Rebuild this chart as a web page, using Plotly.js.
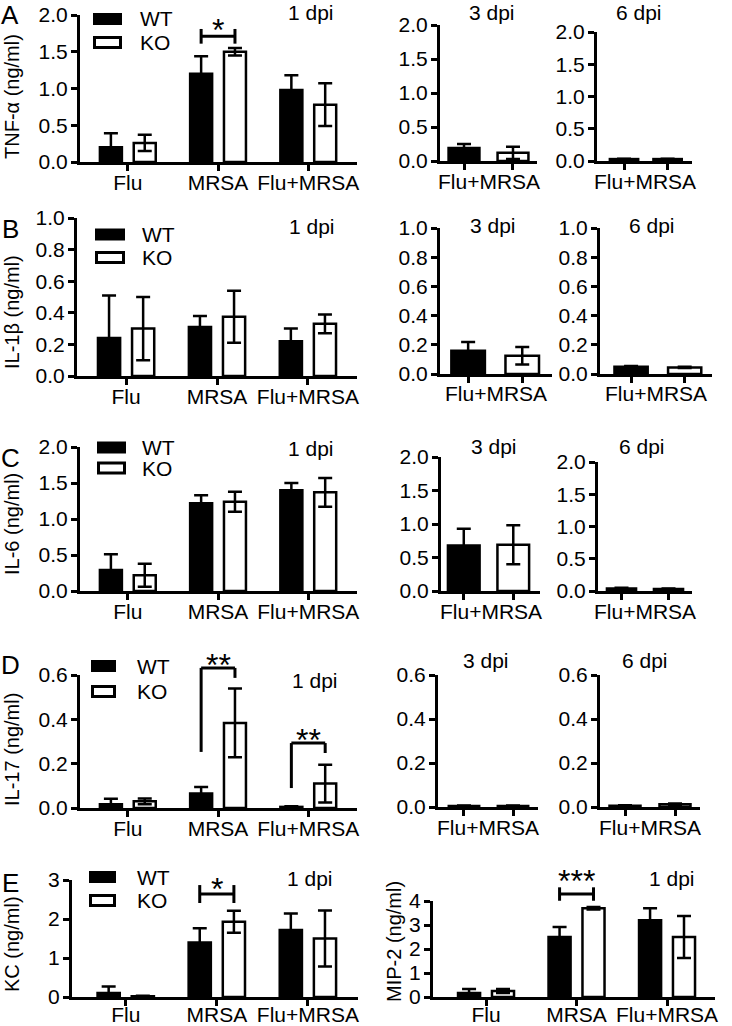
<!DOCTYPE html>
<html><head><meta charset="utf-8">
<script src="https://cdn.plot.ly/plotly-3.0.1.min.js"></script>
<style>body{margin:0;background:#fff}</style>
</head><body><div id="chart" style="width:732px;height:1026px"></div>
<script>
// ---------- DATA ----------
const groups = ["Flu", "MRSA", "Flu+MRSA"];
const genotypes = ["WT", "KO"];
const lateGroup = "Flu+MRSA";
const dayLabels = ["1 dpi", "3 dpi", "6 dpi"];

// A: TNF-α (ng/ml)
const tnf1_wt = [0.20, 1.20, 0.98];
const tnf1_wt_err = [0.19, 0.24, 0.20];
const tnf1_ko = [0.26, 1.50, 0.78];
const tnf1_ko_err = [0.11, 0.05, 0.29];
const tnf3 = [0.19, 0.12];
const tnf3_err = [0.06, 0.09];
const tnf6 = [0.03, 0.03];
const tnf6_err = [0.005, 0.005];

// B: IL-1β (ng/ml)
const il1b1_wt = [0.24, 0.31, 0.22];
const il1b1_wt_err = [0.27, 0.07, 0.08];
const il1b1_ko = [0.30, 0.375, 0.33];
const il1b1_ko_err = [0.20, 0.165, 0.06];
const il1b3 = [0.16, 0.125];
const il1b3_err = [0.06, 0.06];
const il1b6 = [0.05, 0.045];
const il1b6_err = [0.004, 0.004];

// C: IL-6 (ng/ml)
const il6_1_wt = [0.29, 1.22, 1.40];
const il6_1_wt_err = [0.22, 0.11, 0.10];
const il6_1_ko = [0.22, 1.24, 1.37];
const il6_1_ko_err = [0.16, 0.14, 0.20];
const il6_3 = [0.68, 0.69];
const il6_3_err = [0.25, 0.29];
const il6_6 = [0.04, 0.03];
const il6_6_err = [0.01, 0.01];

// D: IL-17 (ng/ml)
const il17_1_wt = [0.017, 0.065, 0.005];
const il17_1_wt_err = [0.025, 0.03, 0.003];
const il17_1_ko = [0.03, 0.384, 0.11];
const il17_1_ko_err = [0.013, 0.155, 0.085];
const il17_3 = [0.005, 0.005];
const il17_3_err = [0.002, 0.002];
const il17_6 = [0.006, 0.012];
const il17_6_err = [0.002, 0.004];

// E: KC and MIP-2 (ng/ml)
const kc_wt = [0.10, 1.40, 1.72];
const kc_wt_err = [0.17, 0.36, 0.42];
const kc_ko = [0.02, 1.93, 1.50];
const kc_ko_err = [0.01, 0.28, 0.72];
const mip2_wt = [0.17, 2.50, 3.20];
const mip2_wt_err = [0.16, 0.42, 0.50];
const mip2_ko = [0.25, 3.70, 2.50];
const mip2_ko_err = [0.08, 0.05, 0.87];

// significance marks
const sigTNF = [{text: "*", cat: 1, y: 1.71, cap: 0.10, textY: 1.90}];
const sigIL17 = [
  {text: "**", cat: 1, top: 0.632, left: 0.253, right: 0.587, textY: 0.68},
  {text: "**", cat: 2, top: 0.293, left: 0.09, right: 0.248, textY: 0.343}
];
const sigKC = [{text: "*", cat: 1, y: 2.64, cap: 0.23, textY: 2.97}];
const sigMIP2 = [{text: "***", cat: 1, y: 4.29, cap: 0.28, textY: 5.17}];

// ---------- LAYOUT ----------
const W = 732, H = 1026;
const px = v => v / W, py = v => 1 - v / H;
const FONT = "Liberation Sans, Arial, Helvetica, sans-serif";
const OFF = 0.1875;
const FS = 21;

const panels = [
  {kind:"main", x:[80,357], y:[15,162], xr:[-0.53,2.54], ymax:2, dtick:0.5, fmt:".1f",
   wt:tnf1_wt, wtE:tnf1_wt_err, ko:tnf1_ko, koE:tnf1_ko_err, day:0, dayPos:[311,12], sigCap:sigTNF},
  {kind:"late", x:[440,537], y:[25,161], xr:[-0.49,1.49], bw:0.63, ymax:2, dtick:0.5, fmt:".1f",
   v:tnf3, e:tnf3_err, day:1, dayPos:[492,12]},
  {kind:"late", x:[597,692], y:[32,161], xr:[-0.62,1.56], bw:0.65, ymax:2, dtick:0.5, fmt:".1f",
   v:tnf6, e:tnf6_err, day:2, dayPos:[639,12]},

  {kind:"main", x:[77,357], y:[218,376], xr:[-0.54,2.54], ymax:1, dtick:0.2, fmt:".1f",
   wt:il1b1_wt, wtE:il1b1_wt_err, ko:il1b1_ko, koE:il1b1_ko_err, day:0, dayPos:[312,227]},
  {kind:"late", x:[440,552], y:[228,374], xr:[-0.52,1.55], bw:0.62, ymax:1, dtick:0.2, fmt:".1f",
   v:il1b3, e:il1b3_err, day:1, dayPos:[493,225]},
  {kind:"late", x:[600,712], y:[228,374], xr:[-0.58,1.51], bw:0.62, ymax:1, dtick:0.2, fmt:".1f",
   v:il1b6, e:il1b6_err, day:2, dayPos:[652,225]},

  {kind:"main", x:[80,357], y:[447,591], xr:[-0.53,2.54], ymax:2, dtick:0.5, fmt:".1f",
   wt:il6_1_wt, wtE:il6_1_wt_err, ko:il6_1_ko, koE:il6_1_ko_err, day:0, dayPos:[311,448]},
  {kind:"late", x:[441,540], y:[457,591], xr:[-0.46,1.54], bw:0.64, ymax:2, dtick:0.5, fmt:".1f",
   v:il6_3, e:il6_3_err, day:1, dayPos:[494,447]},
  {kind:"late", x:[598,692], y:[462,591], xr:[-0.5,1.5], bw:0.62, ymax:2, dtick:0.5, fmt:".1f",
   v:il6_6, e:il6_6_err, day:2, dayPos:[642,447]},

  {kind:"main", x:[80,357], y:[675,808], xr:[-0.53,2.54], ymax:0.6, dtick:0.2, fmt:".1f",
   wt:il17_1_wt, wtE:il17_1_wt_err, ko:il17_1_ko, koE:il17_1_ko_err, day:0, dayPos:[315,680], sigStep:sigIL17},
  {kind:"late", x:[438,538], y:[675,807], xr:[-0.53,1.51], bw:0.62, ymax:0.6, dtick:0.2, fmt:".1f",
   v:il17_3, e:il17_3_err, day:1, dayPos:[486,660]},
  {kind:"late", x:[600,700], y:[675,807], xr:[-0.5,1.5], bw:0.62, ymax:0.6, dtick:0.2, fmt:".1f",
   v:il17_6, e:il17_6_err, day:2, dayPos:[645,660]},

  {kind:"main", x:[72,358], y:[880,997], xr:[-0.59,2.55], ymax:3, dtick:1, fmt:"d", xStand:-9,
   wt:kc_wt, wtE:kc_wt_err, ko:kc_ko, koE:kc_ko_err, day:0, dayPos:[310,878], sigCap:sigKC},
  {kind:"main", x:[433,715], y:[901,997], xr:[-0.586,2.53], ymax:4, dtick:1, fmt:"d", xStand:-9,
   wt:mip2_wt, wtE:mip2_wt_err, ko:mip2_ko, koE:mip2_ko_err, day:0, dayPos:[672,878], sigCap:sigMIP2}
];

const yTitles = [
  {text:"TNF-α (ng/ml)", x:12, y:97},
  {text:"IL-1β (ng/ml)", x:12, y:312},
  {text:"IL-6 (ng/ml)", x:12, y:524},
  {text:"IL-17 (ng/ml)", x:12, y:750},
  {text:"KC (ng/ml)", x:12, y:944},
  {text:"MIP-2 (ng/ml)", x:394, y:942}
];
const rowLetters = [
  {t:"A", x:10, y:15}, {t:"B", x:10, y:229}, {t:"C", x:10, y:458}, {t:"D", x:10, y:665}, {t:"E", x:10, y:883}
];
const legendPos = [
  {x:[93,122], wt:19, ko:42.5, tx:138},
  {x:[95,125], wt:234.5, ko:257.5, tx:140},
  {x:[97,126], wt:447.5, ko:468, tx:140},
  {x:[91,116], wt:666, ko:691.5, tx:135},
  {x:[89,116], wt:877, ko:900.5, tx:135}
];

const traces = [];
const layout = {
  width: W, height: H, margin: {l:0, r:0, t:0, b:0},
  paper_bgcolor: "white", plot_bgcolor: "white",
  barmode: "group", bargap: 0.25, bargroupgap: 0.35,
  showlegend: false,
  font: {family: FONT, color: "black", size: FS},
  shapes: [], annotations: []
};

const axBase = {
  showline: true, linewidth: 3, linecolor: "black",
  ticks: "outside", ticklen: 6, tickwidth: 3, tickcolor: "black",
  showgrid: false, zeroline: false, fixedrange: true, automargin: false,
  tickfont: {family: FONT, size: FS, color: "black"}
};
const errStyle = (arr) => ({type:"data", array: arr, visible: true, color: "black", thickness: 2.5, width: 7});

panels.forEach((p, i) => {
  const n = i + 1;
  const xa = "x" + n, ya = "y" + n;
  const xk = n === 1 ? "xaxis" : "xaxis" + n;
  const yk = n === 1 ? "yaxis" : "yaxis" + n;
  layout[xk] = Object.assign({}, axBase, {
    domain: [px(p.x[0]), px(p.x[1])], anchor: ya, type: "category",
    range: p.xr, showticklabels: p.kind === "main", ticklabelstandoff: p.xStand || -6
  });
  layout[yk] = Object.assign({}, axBase, {
    domain: [py(p.y[1]), py(p.y[0])], anchor: xa,
    range: [0, p.ymax], dtick: p.dtick, tick0: 0, tickformat: p.fmt, ticklabelstandoff: -1
  });
  if (p.kind === "main") {
    traces.push({type:"bar", name: genotypes[0], x: groups, y: p.wt, xaxis: xa, yaxis: ya,
      marker: {color: "black", line: {color: "black", width: 2.5}}, error_y: errStyle(p.wtE)});
    traces.push({type:"bar", name: genotypes[1], x: groups, y: p.ko, xaxis: xa, yaxis: ya,
      marker: {color: "white", line: {color: "black", width: 2.5}}, error_y: errStyle(p.koE)});
  } else {
    traces.push({type:"bar", name: lateGroup, x: genotypes, y: p.v, xaxis: xa, yaxis: ya, width: p.bw,
      marker: {color: ["black", "white"], line: {color: "black", width: 2.5}}, error_y: errStyle(p.e)});
    layout.annotations.push({text: lateGroup, xref: xa + " domain", yref: ya + " domain",
      x: 0.5, y: 0, yanchor: "middle", yshift: -20, showarrow: false, font: {size: FS}});
  }
  layout.annotations.push({text: dayLabels[p.day], xref: "paper", yref: "paper",
    x: px(p.dayPos[0]), y: py(p.dayPos[1]), xanchor: "center", yanchor: "middle", showarrow: false, font: {size: FS}});

  const line = (x0, y0, x1, y1) => layout.shapes.push({type: "line", xref: xa, yref: ya + " domain",
    x0, y0: y0 / p.ymax, x1, y1: y1 / p.ymax, line: {color: "black", width: 3}});
  const star = s => layout.annotations.push({text: s.text, xref: xa, yref: ya + " domain", x: s.cat,
    y: s.textY / p.ymax, yanchor: "middle", yshift: -8, showarrow: false, font: {size: 32}});
  (p.sigCap || []).forEach(s => {
    line(s.cat - OFF, s.y, s.cat + OFF, s.y);
    line(s.cat - OFF, s.y - s.cap, s.cat - OFF, s.y + s.cap);
    line(s.cat + OFF, s.y - s.cap, s.cat + OFF, s.y + s.cap);
    star(s);
  });
  (p.sigStep || []).forEach(s => {
    line(s.cat - OFF, s.left, s.cat - OFF, s.top);
    line(s.cat - OFF, s.top, s.cat + OFF, s.top);
    line(s.cat + OFF, s.top, s.cat + OFF, s.right);
    star(s);
  });
});

yTitles.forEach(t => layout.annotations.push({text: t.text, xref: "paper", yref: "paper",
  x: px(t.x), y: py(t.y), textangle: -90, xanchor: "center", yanchor: "middle", showarrow: false, font: {size: 20}}));
rowLetters.forEach(t => layout.annotations.push({text: t.t, xref: "paper", yref: "paper",
  x: px(t.x), y: py(t.y), xanchor: "center", yanchor: "middle", showarrow: false, font: {size: 26}}));
legendPos.forEach(l => {
  layout.shapes.push({type: "rect", xref: "paper", yref: "paper", x0: px(l.x[0]), x1: px(l.x[1]),
    y0: py(l.wt + 6), y1: py(l.wt - 6), fillcolor: "black", line: {width: 0}});
  layout.shapes.push({type: "rect", xref: "paper", yref: "paper", x0: px(l.x[0] + 1.5), x1: px(l.x[1] - 1.5),
    y0: py(l.ko + 5), y1: py(l.ko - 5), fillcolor: "white", line: {color: "black", width: 3}});
  layout.annotations.push({text: genotypes[0], xref: "paper", yref: "paper", x: px(l.tx), y: py(l.wt),
    xanchor: "left", yanchor: "middle", showarrow: false, font: {size: FS}});
  layout.annotations.push({text: genotypes[1], xref: "paper", yref: "paper", x: px(l.tx), y: py(l.ko),
    xanchor: "left", yanchor: "middle", showarrow: false, font: {size: FS}});
});

Plotly.newPlot("chart", traces, layout, {staticPlot: true, displayModeBar: false});
</script></body></html>
